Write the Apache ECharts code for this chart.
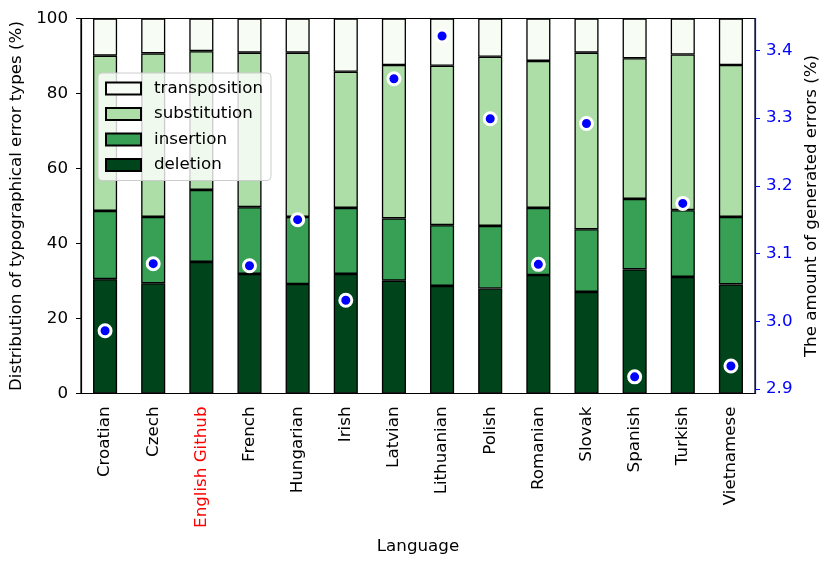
<!DOCTYPE html>
<html lang="en">
<head>
    <meta charset="UTF-8">
    <title>Typographical error types per language</title>
    <script src="https://cdn.jsdelivr.net/npm/echarts@6.0.0/dist/echarts.min.js"></script>
    <style>
        html, body { margin: 0; padding: 0; background: #fff; }
        #chart { width: 831px; height: 568px; }
    </style>
</head>
<body>
<div id="chart"></div>
<script>
const languages = ['Croatian', 'Czech', 'English Github', 'French', 'Hungarian', 'Irish', 'Latvian',
    'Lithuanian', 'Polish', 'Romanian', 'Slovak', 'Spanish', 'Turkish', 'Vietnamese'];
// share of each error type (%), stacked bottom -> top
const deletion      = [30.5, 29.4, 35.1, 31.9, 29.2, 31.9, 30.1, 28.7, 28.0, 31.6, 27.1, 33.1, 31.1, 29.1];
const insertion     = [18.2, 17.7, 19.2, 17.8, 17.9, 17.6, 16.6, 16.2, 16.7, 17.9, 16.7, 18.8, 17.8, 18.0];
const substitution  = [41.4, 43.6, 37.0, 41.2, 43.8, 36.3, 40.9, 42.5, 45.1, 39.2, 47.1, 37.5, 41.5, 40.5];
const transposition = [ 9.9,  9.3,  8.7,  9.1,  9.1, 14.2, 12.4, 12.6, 10.2, 11.3,  9.1, 10.6,  9.6, 12.4];
// amount of generated errors (%), no point for English Github
const generated = [2.986, 3.085, null, 3.082, 3.150, 3.031, 3.358, 3.421, 3.299, 3.084, 3.292, 2.918, 3.174, 2.934];
const rightTicks = [2.9, 3.0, 3.1, 3.2, 3.3, 3.4];

const colors = {
    deletion: '#00441b',
    insertion: '#37a055',
    substitution: '#addea7',
    transposition: '#f7fcf5'
};
const font = "'DejaVu Sans', sans-serif";
const fs = 16.7;

function barSeries(name, data) {
    return {
        name: name,
        type: 'bar',
        stack: 'types',
        barWidth: '50%',
        data: data,
        itemStyle: { color: colors[name], borderColor: '#000', borderWidth: 1.3 },
        emphasis: { disabled: true }
    };
}

const chart = echarts.init(document.getElementById('chart'));
chart.setOption({
    animation: false,
    textStyle: { fontFamily: font },
    grid: {
        left: 81, right: 76, top: 18.5, bottom: 174.5,
        show: true, borderColor: '#000', borderWidth: 1.2
    },
    legend: {
        data: ['transposition', 'substitution', 'insertion', 'deletion'],
        orient: 'vertical',
        icon: 'rect',
        left: 98, top: 73,
        padding: [7, 8, 7, 7],
        itemWidth: 35, itemHeight: 12, itemGap: 8.5,
        backgroundColor: 'rgba(255,255,255,0.8)',
        borderColor: '#ccc', borderWidth: 1, borderRadius: 4,
        textStyle: { fontSize: fs, color: '#000', fontFamily: font, padding: [0, 0, 0, 8] }
    },
    xAxis: {
        type: 'category',
        data: languages,
        name: 'Language',
        nameLocation: 'middle',
        nameGap: 145,
        nameTextStyle: { fontSize: fs, color: '#000', fontFamily: font },
        axisLine: { lineStyle: { color: '#000', width: 1.2 } },
        axisTick: { alignWithLabel: true, length: 5, lineStyle: { color: '#000' } },
        axisLabel: {
            rotate: 90, margin: 13, fontSize: fs, fontFamily: font,
            color: function (v) { return v === 'English Github' ? '#ff0000' : '#000'; }
        }
    },
    yAxis: [
        {
            type: 'value',
            min: 0, max: 100, interval: 20,
            name: 'Distribution of typographical error types (%)',
            nameLocation: 'middle',
            nameRotate: 90,
            nameGap: 53,
            nameTextStyle: { fontSize: fs, color: '#000', fontFamily: font },
            axisLine: { show: true, lineStyle: { color: '#000', width: 1.2 } },
            axisTick: { show: true, length: 5, lineStyle: { color: '#000' } },
            axisLabel: { fontSize: fs, color: '#000', margin: 13, fontFamily: font },
            splitLine: { show: false }
        },
        {
            type: 'value',
            position: 'right',
            min: 2.8934, max: 3.4469,
            name: 'The amount of generated errors (%)',
            nameLocation: 'middle',
            nameRotate: 90,
            nameGap: 48,
            nameTextStyle: { fontSize: fs, color: '#000', fontFamily: font },
            axisLine: { show: true, lineStyle: { color: '#0000ff', width: 1.2 } },
            axisTick: { show: true, length: 5, customValues: rightTicks, lineStyle: { color: '#0000ff' } },
            axisLabel: {
                fontSize: fs, color: '#0000ff', margin: 11, fontFamily: font,
                customValues: rightTicks,
                formatter: function (v) { return v.toFixed(1); }
            },
            splitLine: { show: false }
        }
    ],
    series: [
        barSeries('deletion', deletion),
        barSeries('insertion', insertion),
        barSeries('substitution', substitution),
        barSeries('transposition', transposition),
        {
            name: 'generated',
            type: 'scatter',
            yAxisIndex: 1,
            data: generated.map(v => v === null ? '-' : v),
            symbolSize: 12,
            itemStyle: { color: '#0000ff', borderColor: '#fff', borderWidth: 3, opacity: 1 },
            z: 5
        }
    ]
});
</script>
</body>
</html>
